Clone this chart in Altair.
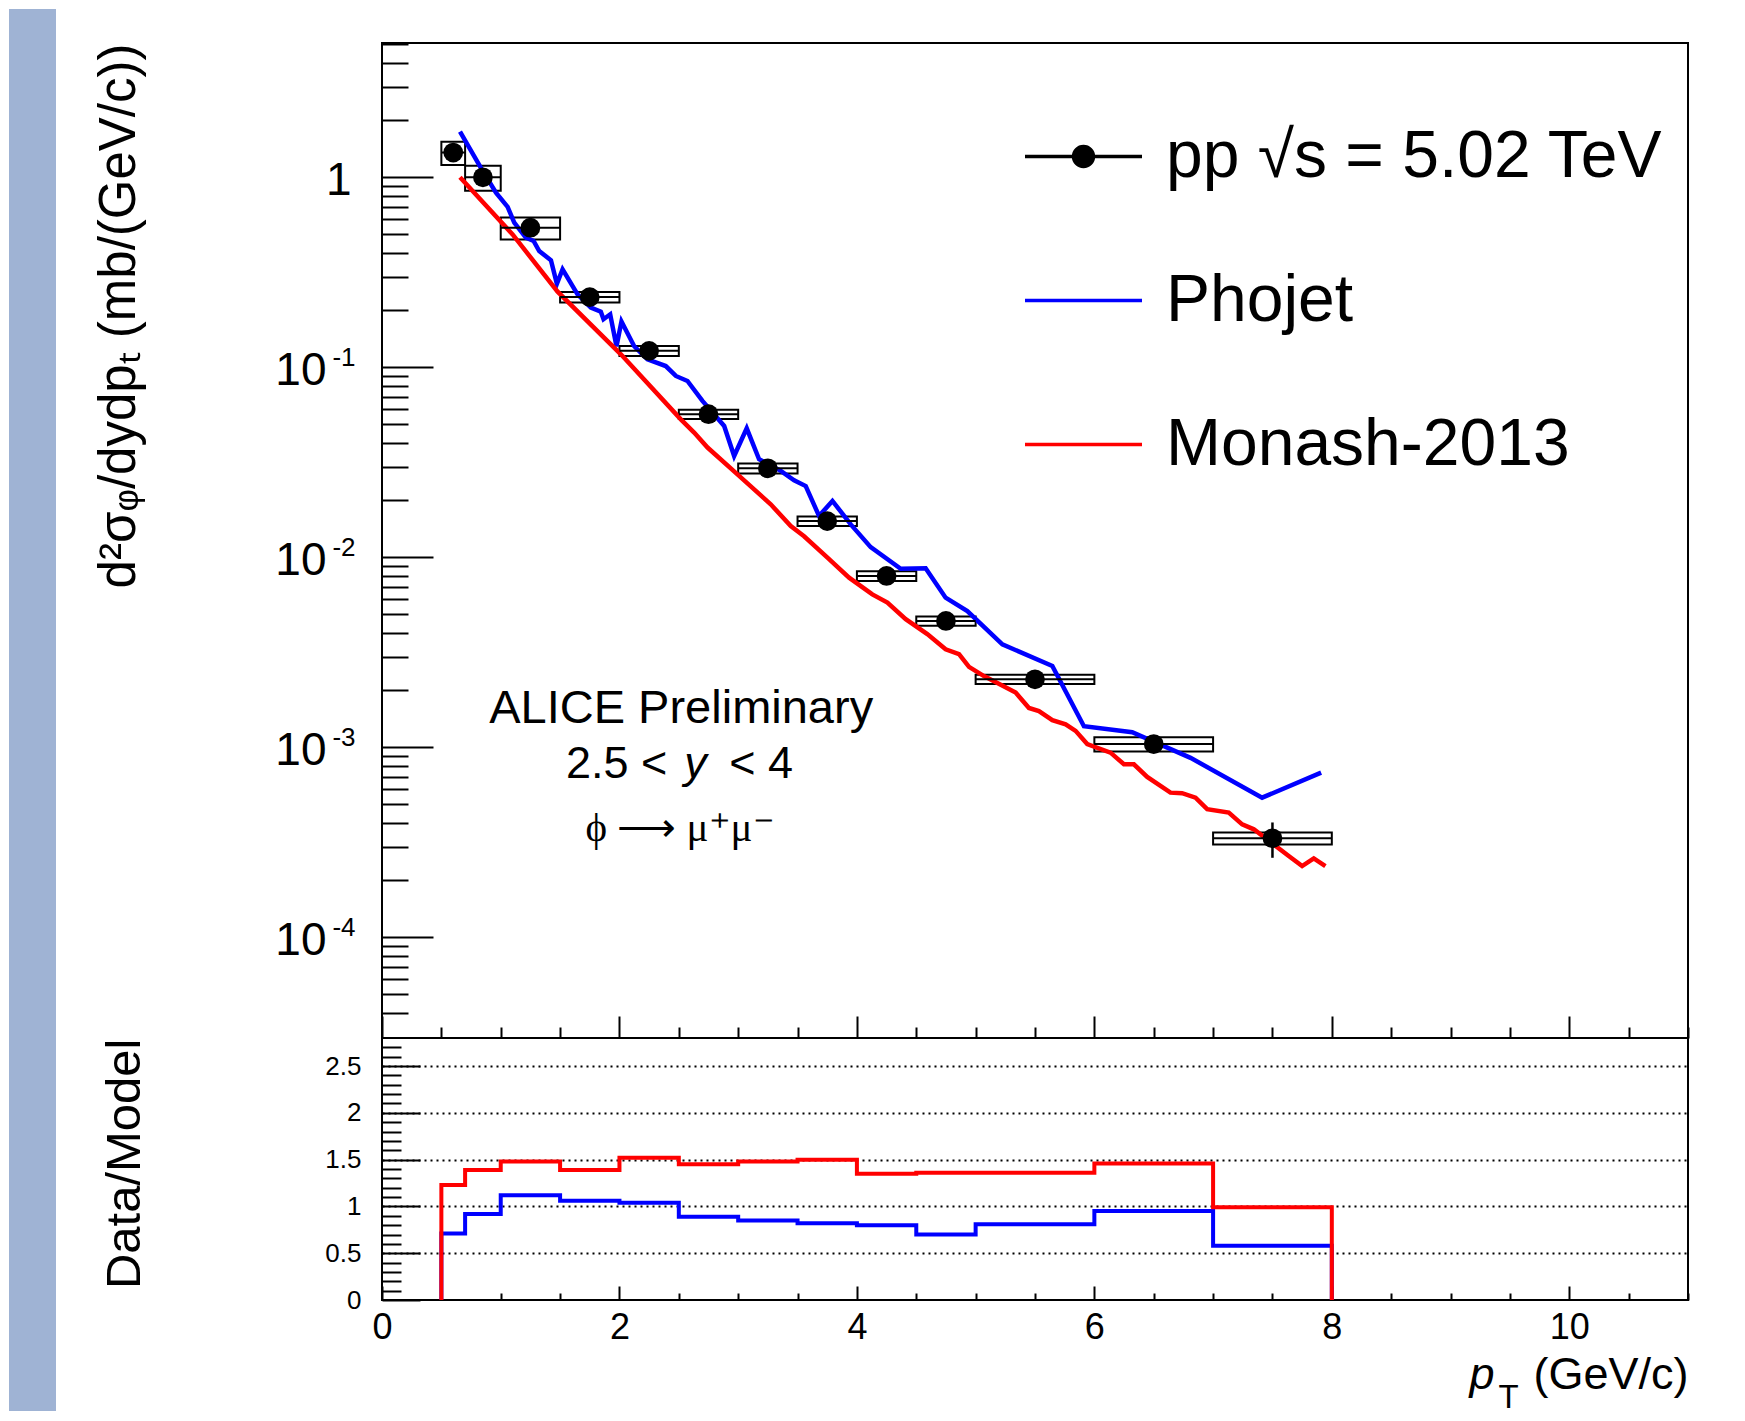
import altair as alt
import pandas as pd

FONT = "Liberation Sans"
SERIF = "Liberation Serif"

# ---------------- data: measured phi cross section ----------------
pt_center = [0.6, 0.85, 1.25, 1.75, 2.25, 2.75, 3.25, 3.75, 4.25, 4.75, 5.5, 6.5, 7.5]
pt_low = [0.5, 0.7, 1.0, 1.5, 2.0, 2.5, 3.0, 3.5, 4.0, 4.5, 5.0, 6.0, 7.0]
pt_high = [0.7, 1.0, 1.5, 2.0, 2.5, 3.0, 3.5, 4.0, 4.5, 5.0, 6.0, 7.0, 8.0]
cross_section = [1.35, 1.00, 0.543, 0.234, 0.122, 0.0566, 0.0294, 0.0155,
                 0.00797, 0.00462, 0.00228, 0.00104, 0.000332]
stat_err = [0.02, 0.012, 0.006, 0.003, 0.0015, 0.0007, 0.0004, 0.0002,
            0.00012, 0.00008, 0.00005, 0.00006, 0.00007]
sys_err = [0.19, 0.15, 0.072, 0.015, 0.0074, 0.0031, 0.0018, 0.00087,
           0.00048, 0.00026, 0.00013, 0.00009, 0.000024]

# ---------------- model curves ----------------
phojet_pt = [0.657, 0.833, 0.96, 1.058, 1.114, 1.212, 1.277, 1.324, 1.423, 1.473,
             1.521, 1.647, 1.759, 1.843, 1.866, 1.922, 1.975, 2.017, 2.124, 2.236,
             2.39, 2.475, 2.573, 2.699, 2.882, 2.966, 3.072, 3.176, 3.359, 3.471,
             3.569, 3.681, 3.794, 3.948, 4.116, 4.369, 4.579, 4.747, 4.93, 5.225,
             5.646, 5.912, 6.319, 6.81, 7.413, 7.91]
phojet_val = [1.74, 1.12, 0.83, 0.698, 0.577, 0.481, 0.462, 0.409, 0.366, 0.275,
              0.328, 0.242, 0.206, 0.196, 0.179, 0.19, 0.129, 0.174, 0.129, 0.110,
              0.1015, 0.090, 0.0847, 0.0665, 0.0491, 0.0341, 0.0477, 0.0328, 0.0285, 0.0254,
              0.0237, 0.0165, 0.0198, 0.0149, 0.0113, 0.0087, 0.00875, 0.00613, 0.00521, 0.00348,
              0.00268, 0.00129, 0.0012, 0.00088, 0.000543, 0.000735]

monash_pt = [0.657, 1.10, 1.479, 2.012, 2.517, 2.629, 2.742, 2.994, 3.274, 3.443,
             3.555, 3.752, 3.934, 4.13, 4.257, 4.411, 4.593, 4.747, 4.86, 4.944,
             5.07, 5.337, 5.449, 5.533, 5.646, 5.758, 5.842, 5.94, 6.136, 6.249,
             6.333, 6.445, 6.641, 6.739, 6.852, 6.95, 7.132, 7.245, 7.343, 7.637,
             7.75, 7.848, 7.946]
monash_val = [1.0, 0.50, 0.25, 0.117, 0.0532, 0.0453, 0.0378, 0.0273, 0.019, 0.0146,
              0.0129, 0.00995, 0.00781, 0.00638, 0.00577, 0.00472, 0.00394, 0.00328, 0.00309, 0.00265,
              0.00237, 0.00194, 0.00161, 0.00155, 0.00139, 0.00132, 0.00122, 0.00104, 0.000937, 0.000814,
              0.000814, 0.000698, 0.000577, 0.000573, 0.000543, 0.000472, 0.000453, 0.000393, 0.00037, 0.000268,
              0.000237, 0.00026, 0.000237]

# ---------------- ratio data / model ----------------
ratio_edges = [0.5, 0.7, 1.0, 1.5, 2.0, 2.5, 3.0, 3.5, 4.0, 4.5, 5.0, 6.0, 7.0, 8.0]
ratio_phojet = [0.71, 0.92, 1.12, 1.06, 1.04, 0.89, 0.85, 0.82, 0.80, 0.70, 0.81, 0.95, 0.58]
ratio_monash = [1.23, 1.39, 1.48, 1.39, 1.52, 1.45, 1.48, 1.50, 1.35, 1.36, 1.36, 1.46, 0.99]

# ---------------- legend / annotations ----------------
legend_names = ["pp  \u221as = 5.02 TeV", "Phojet", "Monash-2013"]
legend_colors = ["black", "#0000ff", "#ff0000"]
legend_paths = [
    "M-1,0L1,0M-0.17,0A0.17,0.17,0,1,1,0.17,0A0.17,0.17,0,1,1,-0.17,0Z",
    "M-1,0L1,0",
    "M-1,0L1,0",
]
# "ALICE Preliminary" (centred)
ann_title_text = ["ALICE Preliminary"]
ann_title_pt = [2.52]
ann_title_val = [1.347e-3]
# "2.5 <"  (left-aligned) , "< 4" (right-aligned), italic "y" (centred)
ann_left_text = ["2.5 <"]
ann_left_pt = [1.55]
ann_right_text = ["< 4"]
ann_right_pt = [3.462]
ann_ital_text = ["y"]
ann_ital_pt = [2.64]
ann_row2_val = [6.92e-4]
# decay channel (serif, centred)
ann_serif_text = ["\u03d5 \u27f6 \u03bc\u207a\u03bc\u207b"]
ann_serif_pt = [2.51]
ann_serif_val = [3.2e-4]

# ---------------- tables ----------------
pts = pd.DataFrame({"pt": pt_center, "lo": pt_low, "hi": pt_high, "val": cross_section,
                    "stat": stat_err, "sys": sys_err})
pts["sys_lo"] = pts["val"] - pts["sys"]
pts["sys_hi"] = pts["val"] + pts["sys"]
pts["stat_lo"] = pts["val"] - pts["stat"]
pts["stat_hi"] = pts["val"] + pts["stat"]

phojet_df = pd.DataFrame({"pt": phojet_pt, "val": phojet_val})
monash_df = pd.DataFrame({"pt": monash_pt, "val": monash_val})


def step_table(edges, vals):
    xs = [edges[0]] + list(edges[:-1]) + [edges[-1], edges[-1]]
    ys = [0.0] + list(vals) + [vals[-1], 0.0]
    return pd.DataFrame({"x": xs, "y": ys, "idx": list(range(len(xs)))})


ratio_ph_df = step_table(ratio_edges, ratio_phojet)
ratio_mo_df = step_table(ratio_edges, ratio_monash)

W = 1306
H_TOP = 995
H_RAT = 262

xs_top = alt.Scale(domain=[0, 11], nice=False, zero=False)
ys_top = alt.Scale(type="log", domain=[2.95e-5, 5.09], nice=False)
xs_rat = alt.Scale(domain=[0, 11], nice=False, zero=False)
ys_rat = alt.Scale(domain=[0, 2.8], nice=False, zero=False)

x_major_vals = [0, 2, 4, 6, 8, 10]
x_minor_vals = [v / 2 for v in range(0, 23) if v % 4 != 0]
y_top_major_vals = [1e-4, 1e-3, 1e-2, 1e-1, 1]
y_top_minor_vals = [k * 10.0 ** d for d in range(-5, 1) for k in range(2, 10)
                    if 3.5e-5 < k * 10.0 ** d < 5.09]
y_rat_major_vals = [0, 0.5, 1, 1.5, 2, 2.5]
y_rat_minor_vals = [round(v / 10, 1) for v in range(1, 28) if v % 5 != 0]

# ---------------- axes (inward ticks via negative offset) ----------------
ax_x_top_major = alt.Axis(orient="bottom", values=x_major_vals, tickSize=22, offset=-22,
                          labels=False, domain=False, tickWidth=2, title=None)
ax_x_top_minor = alt.Axis(orient="bottom", values=x_minor_vals, tickSize=11, offset=-11,
                          labels=False, domain=False, tickWidth=2, title=None)
ax_y_top_major = alt.Axis(
    orient="left", values=y_top_major_vals, tickSize=51, offset=-51, domain=False, tickWidth=2,
    labelExpr="datum.value < 0.5 ? '10' : '1'", labelFontSize=46,
    labelPadding={"condition": {"test": "datum.value < 0.5", "value": 56}, "value": 31},
    labelOffset=3,
    title="d\u00b2\u03c3\u1d69/dydp\u209c  (mb/(GeV/c))", titleFontSize=51, titleAngle=270,
    titleAlign="right", titleBaseline="alphabetic", titleX=-299, titleY=0,
)
ax_y_top_minor = alt.Axis(orient="left", values=y_top_minor_vals, tickSize=26, offset=-26,
                          labels=False, domain=False, tickWidth=2, title=None)
ax_y_top_sup = alt.Axis(orient="left", values=[1e-4, 1e-3, 1e-2, 1e-1], ticks=False, domain=False,
                        labelExpr="'-' + round(-log(datum.value) / LN10)", labelFontSize=26,
                        labelPadding=27, labelOffset=-10, title=None)

ax_r_x_major = alt.Axis(orient="bottom", values=x_major_vals, tickSize=14, offset=-14, domain=False,
                        tickWidth=2, labelFontSize=36, labelPadding=10, labelExpr="'' + datum.value",
                        title="(GeV/c)", titleFontSize=45, titleX=W, titleY=102,
                        titleAlign="right", titleBaseline="alphabetic", titleAngle=0)
ax_r_x_minor = alt.Axis(orient="bottom", values=x_minor_vals, tickSize=7, offset=-7, labels=False,
                        domain=False, tickWidth=2,
                        title="p", titleFontSize=45, titleFontStyle="italic", titleX=1112, titleY=95,
                        titleAlign="right", titleBaseline="alphabetic", titleAngle=0)
ax_r_x_sub = alt.Axis(orient="bottom", ticks=False, labels=False, domain=False,
                      title="T", titleFontSize=33, titleX=1116, titleY=107,
                      titleAlign="left", titleBaseline="alphabetic", titleAngle=0)
ax_r_y_major = alt.Axis(orient="left", values=y_rat_major_vals, tickSize=38, offset=-38, domain=False,
                        tickWidth=2, labelFontSize=26, labelPadding=21, labelExpr="'' + datum.value",
                        title="Data/Model", titleFontSize=49, titleAngle=270, titleAlign="right",
                        titleBaseline="alphabetic", titleX=-281, titleY=0)
ax_r_y_minor = alt.Axis(orient="left", values=y_rat_minor_vals, tickSize=19, offset=-19, labels=False,
                        domain=False, tickWidth=2, title=None)
ax_r_y_grid = alt.Axis(orient="left", values=[0.5, 1, 1.5, 2, 2.5], grid=True, gridDash=[2, 4],
                       gridColor="black", gridWidth=2, ticks=False, labels=False, domain=False,
                       title=None)

# ---------------- top panel ----------------
stripe = alt.Chart(pd.DataFrame({"s": [0]})).mark_rect(color="#9fb3d4").encode(
    x=alt.value(-373), x2=alt.value(-326), y=alt.value(-34), y2=alt.value(1368)
)

boxes = alt.Chart(pts).mark_rect(filled=False, color="black", strokeWidth=2).encode(
    x=alt.X("lo:Q", scale=xs_top, axis=ax_x_top_major),
    x2="hi:Q",
    y=alt.Y("sys_lo:Q", scale=ys_top, axis=ax_y_top_major),
    y2="sys_hi:Q",
)
phojet_line = alt.Chart(phojet_df).mark_line(color="#0000ff", strokeWidth=4.5).encode(
    x=alt.X("pt:Q", scale=xs_top, axis=ax_x_top_minor),
    y=alt.Y("val:Q", scale=ys_top, axis=ax_y_top_minor),
)
monash_line = alt.Chart(monash_df).mark_line(color="#ff0000", strokeWidth=4.5).encode(
    x=alt.X("pt:Q", scale=xs_top, axis=None),
    y=alt.Y("val:Q", scale=ys_top, axis=ax_y_top_sup),
)
xerr = alt.Chart(pts).mark_rule(color="black", strokeWidth=2).encode(
    x=alt.X("lo:Q", scale=xs_top, axis=None), x2="hi:Q",
    y=alt.Y("val:Q", scale=ys_top, axis=None),
)
yerr = alt.Chart(pts).mark_rule(color="black", strokeWidth=2.5).encode(
    x=alt.X("pt:Q", scale=xs_top, axis=None),
    y=alt.Y("stat_lo:Q", scale=ys_top, axis=None), y2="stat_hi:Q",
)
markers = alt.Chart(pts).mark_circle(size=390, color="black", opacity=1).encode(
    x=alt.X("pt:Q", scale=xs_top, axis=None),
    y=alt.Y("val:Q", scale=ys_top, axis=None),
)


def text_layer(texts, pts_, vals, align, font=FONT, size=46, style="normal"):
    df = pd.DataFrame({"pt": pts_, "val": vals, "t": texts})
    return alt.Chart(df).mark_text(font=font, fontSize=size, fontStyle=style, color="black",
                                   align=align, baseline="alphabetic").encode(
        x=alt.X("pt:Q", scale=xs_top, axis=None),
        y=alt.Y("val:Q", scale=ys_top, axis=None),
        text="t:N",
    )


ann_title = text_layer(ann_title_text, ann_title_pt, ann_title_val, "center", size=47)
ann_left = text_layer(ann_left_text, ann_left_pt, ann_row2_val, "left", size=45)
ann_right = text_layer(ann_right_text, ann_right_pt, ann_row2_val, "right", size=45)
ann_ital = text_layer(ann_ital_text, ann_ital_pt, ann_row2_val, "center", size=45, style="italic")
ann_serif = text_layer(ann_serif_text, ann_serif_pt, ann_serif_val, "center", font=SERIF, size=41)

leg = alt.Legend(orient="none", legendX=641, legendY=53, title=None, symbolSize=13689,
                 symbolStrokeWidth=3.5, symbolOpacity=1, labelFontSize=66, labelFont=FONT,
                 labelColor="black", labelOffset=22, rowPadding=50, labelLimit=1200, padding=0)
legend_layer = alt.Chart(pd.DataFrame({"series": pd.Series([], dtype="object")})).mark_point(
    filled=True, opacity=1, size=13689).encode(
    fill=alt.Fill("series:N", scale=alt.Scale(domain=legend_names, range=legend_colors), legend=leg),
    stroke=alt.Stroke("series:N", scale=alt.Scale(domain=legend_names, range=legend_colors), legend=leg),
    shape=alt.Shape("series:N", scale=alt.Scale(domain=legend_names, range=legend_paths), legend=leg),
)

top = alt.layer(
    stripe, boxes, phojet_line, monash_line, xerr, yerr, markers,
    ann_title, ann_left, ann_right, ann_ital, ann_serif, legend_layer,
).resolve_axis(x="independent", y="independent").properties(width=W, height=H_TOP)

# ---------------- ratio panel ----------------
ratio_axes = alt.Chart(ratio_mo_df).mark_point(opacity=0).encode(
    x=alt.X("x:Q", scale=xs_rat, axis=ax_r_x_sub),
    y=alt.Y("y:Q", scale=ys_rat, axis=ax_r_y_grid),
)
ratio_ph = alt.Chart(ratio_ph_df).mark_line(color="#0000ff", strokeWidth=4, interpolate="step-after").encode(
    x=alt.X("x:Q", scale=xs_rat, axis=ax_r_x_major),
    y=alt.Y("y:Q", scale=ys_rat, axis=ax_r_y_major),
    order="idx:Q",
)
ratio_mo = alt.Chart(ratio_mo_df).mark_line(color="#ff0000", strokeWidth=4, interpolate="step-after").encode(
    x=alt.X("x:Q", scale=xs_rat, axis=ax_r_x_minor),
    y=alt.Y("y:Q", scale=ys_rat, axis=ax_r_y_minor),
    order="idx:Q",
)
ratio = alt.layer(ratio_axes, ratio_ph, ratio_mo).resolve_axis(
    x="independent", y="independent").properties(width=W, height=H_RAT)

chart = alt.vconcat(top, ratio, spacing=0, bounds="flush").properties(
    padding=0, background="white"
).configure_view(
    stroke="black", strokeWidth=2
).configure_axis(
    labelFont=FONT, titleFont=FONT, labelColor="black", titleColor="black", tickColor="black",
    titleFontWeight="normal", labelFlush=False, labelOverlap=False, grid=False,
)

chart.save("out.html", embed_options={"renderer": "svg", "actions": False})
